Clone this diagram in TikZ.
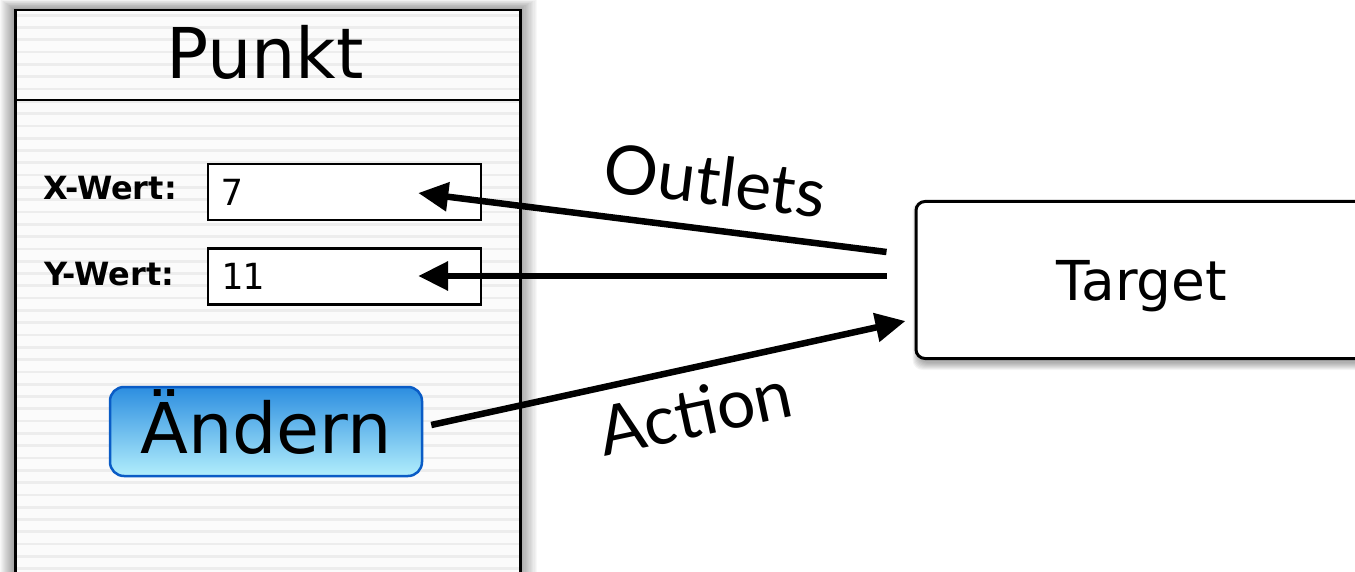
\documentclass[tikz,border=0pt]{standalone}
\usepackage{fontspec}
\setmainfont{DejaVu Sans}
\newfontfamily\monofont{DejaVu Sans Mono}
\newfontfamily\labelfont{Lato}
\usetikzlibrary{arrows.meta,calc}
\definecolor{stripe}{HTML}{EDEDED}
\definecolor{paper}{HTML}{FBFBFB}
\definecolor{btnedge}{HTML}{0A5CC6}
\definecolor{btntop}{HTML}{2C8EE0}
\definecolor{btnbot}{HTML}{B2EEFC}
\begin{document}
\begin{tikzpicture}[x=1pt,y=-1pt,
  window/.style={draw, line width=2.5pt, fill=paper, inner sep=0pt,
    minimum width=505pt, minimum height=620pt, anchor=north west},
  field/.style={draw, line width=2.4pt, fill=white, minimum width=273pt,
    minimum height=56pt, inner xsep=13pt, inner ysep=0pt, text width=247pt,
    align=left, font=\monofont\fontsize{36}{40}\selectfont},
  fieldlabel/.style={anchor=base west, inner sep=0pt,
    font=\bfseries\fontsize{32}{36}\selectfont},
  button/.style={draw=btnedge, line width=2.5pt, rounded corners=14pt,
    top color=btntop, bottom color=btnbot, minimum width=312pt,
    minimum height=89pt, inner sep=0pt, text depth=20pt,
    font=\fontsize{70}{76}\selectfont},
  targetbox/.style={draw, line width=3pt, rounded corners=9pt, fill=white,
    minimum width=452pt, minimum height=157pt, text depth=0pt,
    font=\fontsize{55}{60}\selectfont},
  link/.style={line width=6.5pt, -{Triangle[length=30pt,width=28pt]}},
  linklabel/.style={font=\labelfont\fontsize{68}{72}\selectfont, inner sep=0pt}
]
\useasboundingbox (0,0) rectangle (1355,572);
\clip (0,0) rectangle (1355,572);
\fill[white] (0,0) rectangle (1355,572);

% soft shadow around the window
\foreach \i in {1,...,14}
  \fill[black, opacity=0.026] (14-\i, 9-0.7*\i) rectangle (519+1.3*\i, 640);

% the window with its striped background
\node[window, path picture={
    \foreach \k in {0,...,50}
      \fill[stripe] ($(path picture bounding box.north west)+(0,3.6+12.3*\k)$)
        rectangle ($(path picture bounding box.north east)+(0,6.3+12.3*\k)$);
  }] (win) at (14,9) {};
\draw[line width=2pt] ($(win.north west)+(0,91)$) -- ($(win.north east)+(0,91)$);
\node[anchor=base, inner sep=0pt, font=\fontsize{70}{76}\selectfont] (title) at (265,79) {Punkt};

% value fields
\node[fieldlabel] (xlabel) at (43,200) {X-Wert:};
\node[fieldlabel] (ylabel) at (44,285) {Y-Wert:};
\node[field] (xval) at (344.5,192) {7};
\node[field] (yval) at (344.5,276.5) {11};

% push button
\node[button] (change) at (266,431.5) {Ändern};

% shadow of the target box
\foreach \i in {1,...,8}
  \fill[black, opacity=0.045, rounded corners=10pt]
    (919-0.8*\i, 207-0.8*\i) rectangle (1370+\i, 362+\i);
\node[targetbox] (target) at (1142,280) {Target};

% connections
\draw[link] ($(target.west)+(-28,-28)$) -- ($(xval.east)+(-64,1)$);
\draw[link] ($(target.west)+(-28,-4)$) -- ($(yval.east)+(-64,-0.5)$);
\draw[link] ($(change.east)+(8,-6.5)$) -- ($(target.west)+(-9,41)$);

\node[linklabel, rotate=-7] (outlets) at (715,180) {Outlets};
\node[linklabel, rotate=12] (action) at (695,412) {Action};
\end{tikzpicture}
\end{document}
